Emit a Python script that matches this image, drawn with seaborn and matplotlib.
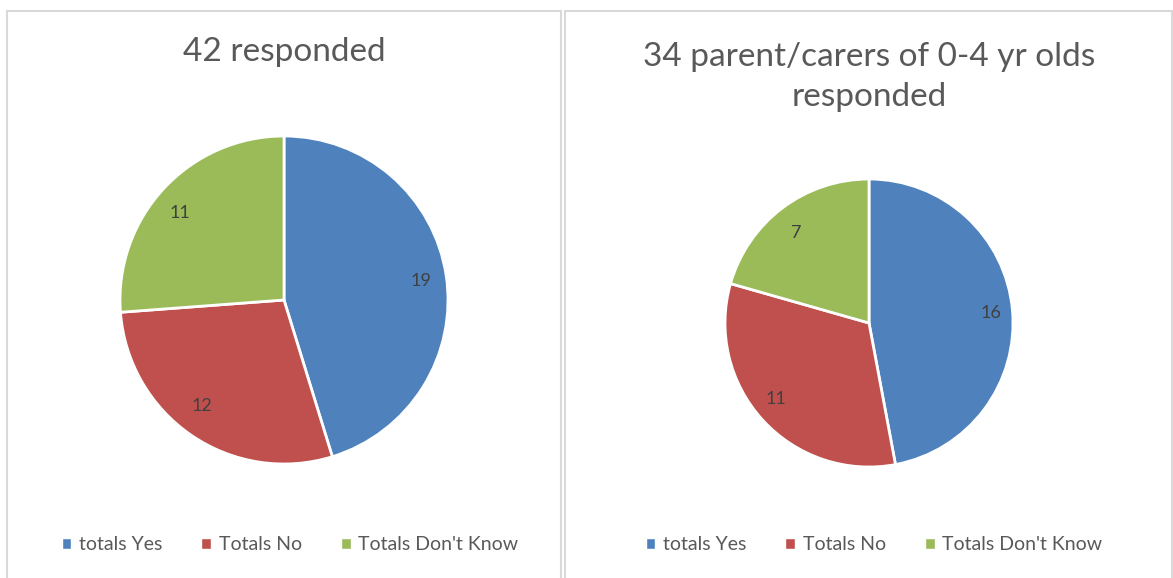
import matplotlib
matplotlib.use("Agg")
import matplotlib.pyplot as plt
import seaborn as sns
from matplotlib.patches import Rectangle, Patch

categories = ["totals Yes", "Totals No", "Totals Don't Know"]
all_values = [19, 12, 11]
parent_values = [16, 11, 7]
titles = ["42 responded", "34 parent/carers of 0-4 yr olds\nresponded"]

sns.set_theme(style="white")
plt.rcParams['font.family'] = ['Lato', 'DejaVu Sans']
colors = sns.color_palette(["#4F81BD", "#C0504D", "#9BBB59"])
text_col = "#595959"

W, H = 1173, 578
fig = plt.figure(figsize=(W / 100, H / 100), dpi=100)

# panel borders
for x0, x1 in [(7, 561), (565, 1172)]:
    fig.add_artist(Rectangle((x0 / W, -0.05), (x1 - x0) / W, (H - 11) / H + 0.05,
                             transform=fig.transFigure, fill=False,
                             edgecolor="#D9D9D9", lw=1.5))


def draw_pie(values, cx, cy, r, title, title_y, legend_x):
    ax = fig.add_axes([(cx - r) / W, (H - cy - r) / H, 2 * r / W, 2 * r / H])
    ax.pie(values, colors=colors, startangle=90, counterclock=False,
           labels=[str(v) for v in values], labeldistance=0.78,
           wedgeprops=dict(edgecolor="white", linewidth=2),
           textprops=dict(color="#404040", fontsize=13))
    ax.set_xlim(-1.0, 1.0)
    ax.set_ylim(-1.0, 1.0)
    ax.set_aspect("equal")
    ax.axis("off")
    fig.text(cx / W, 1 - title_y / H, title, ha="center", va="center",
             fontsize=24, color=text_col, linespacing=1.4)
    handles = [Patch(facecolor=c, label=l) for c, l in zip(colors, categories)]
    fig.legend(handles=handles, loc="center", bbox_to_anchor=(legend_x / W, 1 - 545 / H),
               ncol=3, frameon=False, fontsize=14, handlelength=0.5, handleheight=0.5,
               handletextpad=0.4, columnspacing=2.0, labelcolor=text_col)


draw_pie(all_values, 284, 300, 164, titles[0], 52, 290)
draw_pie(parent_values, 869, 323, 144, titles[1], 77, 874)

fig.savefig("out.png", dpi=100, facecolor="white")
